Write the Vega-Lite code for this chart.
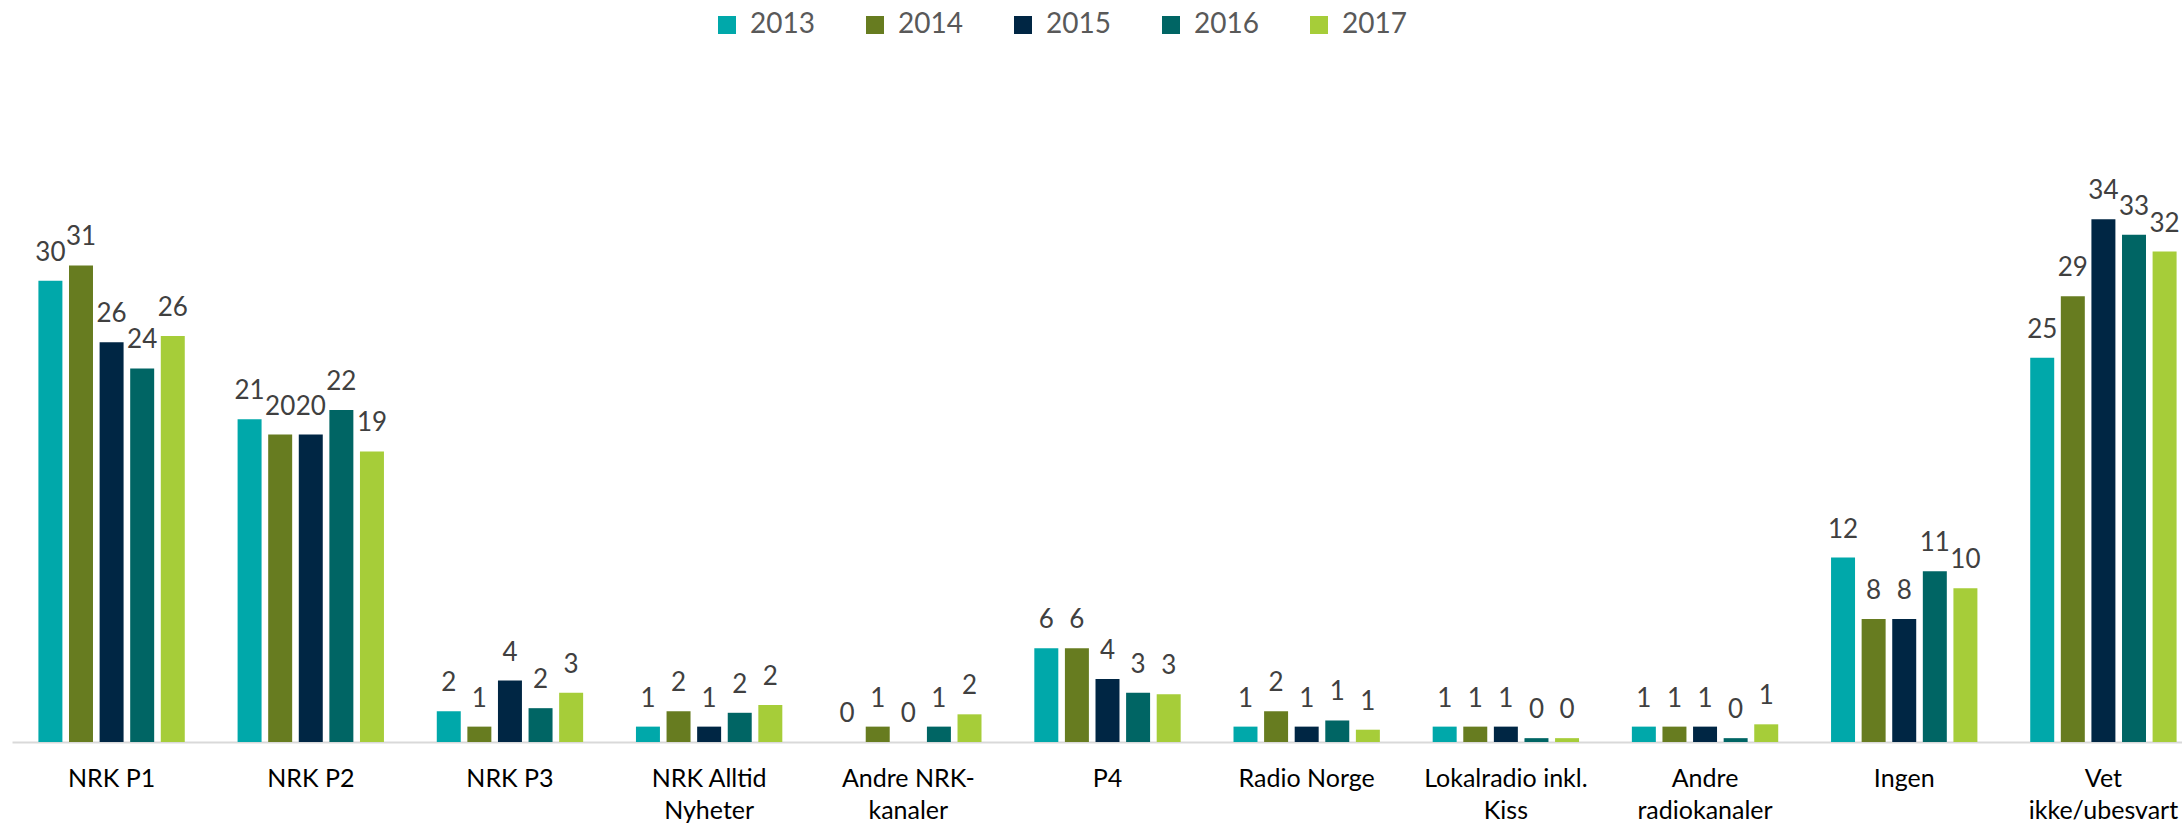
{
  "$schema": "https://vega.github.io/schema/vega-lite/v6.json",
  "width": 2170,
  "height": 615,
  "autosize": {"type": "none"},
  "padding": {"left": 12, "top": 127, "right": 0, "bottom": 87},
  "background": "white",
  "config": {"view": {"stroke": null}, "font": "Lato"},
  "data": {
    "values": [
      {"kanal": "NRK P1", "year": "2013", "value": 30.0},
      {"kanal": "NRK P1", "year": "2014", "value": 31.0},
      {"kanal": "NRK P1", "year": "2015", "value": 26.0},
      {"kanal": "NRK P1", "year": "2016", "value": 24.3},
      {"kanal": "NRK P1", "year": "2017", "value": 26.4},
      {"kanal": "NRK P2", "year": "2013", "value": 21.0},
      {"kanal": "NRK P2", "year": "2014", "value": 20.0},
      {"kanal": "NRK P2", "year": "2015", "value": 20.0},
      {"kanal": "NRK P2", "year": "2016", "value": 21.6},
      {"kanal": "NRK P2", "year": "2017", "value": 18.9},
      {"kanal": "NRK P3", "year": "2013", "value": 2.0},
      {"kanal": "NRK P3", "year": "2014", "value": 1.0},
      {"kanal": "NRK P3", "year": "2015", "value": 4.0},
      {"kanal": "NRK P3", "year": "2016", "value": 2.2},
      {"kanal": "NRK P3", "year": "2017", "value": 3.2},
      {"kanal": "NRK Alltid Nyheter", "year": "2013", "value": 1.0},
      {"kanal": "NRK Alltid Nyheter", "year": "2014", "value": 2.0},
      {"kanal": "NRK Alltid Nyheter", "year": "2015", "value": 1.0},
      {"kanal": "NRK Alltid Nyheter", "year": "2016", "value": 1.9},
      {"kanal": "NRK Alltid Nyheter", "year": "2017", "value": 2.4},
      {"kanal": "Andre NRK-kanaler", "year": "2013", "value": 0},
      {"kanal": "Andre NRK-kanaler", "year": "2014", "value": 1.0},
      {"kanal": "Andre NRK-kanaler", "year": "2015", "value": 0},
      {"kanal": "Andre NRK-kanaler", "year": "2016", "value": 1.0},
      {"kanal": "Andre NRK-kanaler", "year": "2017", "value": 1.8},
      {"kanal": "P4", "year": "2013", "value": 6.1},
      {"kanal": "P4", "year": "2014", "value": 6.1},
      {"kanal": "P4", "year": "2015", "value": 4.1},
      {"kanal": "P4", "year": "2016", "value": 3.2},
      {"kanal": "P4", "year": "2017", "value": 3.1},
      {"kanal": "Radio Norge", "year": "2013", "value": 1.0},
      {"kanal": "Radio Norge", "year": "2014", "value": 2.0},
      {"kanal": "Radio Norge", "year": "2015", "value": 1.0},
      {"kanal": "Radio Norge", "year": "2016", "value": 1.4},
      {"kanal": "Radio Norge", "year": "2017", "value": 0.8},
      {"kanal": "Lokalradio inkl. Kiss", "year": "2013", "value": 1.0},
      {"kanal": "Lokalradio inkl. Kiss", "year": "2014", "value": 1.0},
      {"kanal": "Lokalradio inkl. Kiss", "year": "2015", "value": 1.0},
      {"kanal": "Lokalradio inkl. Kiss", "year": "2016", "value": 0.25},
      {"kanal": "Lokalradio inkl. Kiss", "year": "2017", "value": 0.25},
      {"kanal": "Andre radiokanaler", "year": "2013", "value": 1.0},
      {"kanal": "Andre radiokanaler", "year": "2014", "value": 1.0},
      {"kanal": "Andre radiokanaler", "year": "2015", "value": 1.0},
      {"kanal": "Andre radiokanaler", "year": "2016", "value": 0.25},
      {"kanal": "Andre radiokanaler", "year": "2017", "value": 1.15},
      {"kanal": "Ingen", "year": "2013", "value": 12.0},
      {"kanal": "Ingen", "year": "2014", "value": 8.0},
      {"kanal": "Ingen", "year": "2015", "value": 8.0},
      {"kanal": "Ingen", "year": "2016", "value": 11.1},
      {"kanal": "Ingen", "year": "2017", "value": 10.0},
      {"kanal": "Vet ikke/ubesvart", "year": "2013", "value": 25.0},
      {"kanal": "Vet ikke/ubesvart", "year": "2014", "value": 29.0},
      {"kanal": "Vet ikke/ubesvart", "year": "2015", "value": 34.0},
      {"kanal": "Vet ikke/ubesvart", "year": "2016", "value": 33.0},
      {"kanal": "Vet ikke/ubesvart", "year": "2017", "value": 31.9}
    ]
  },
  "encoding": {
    "x": {
      "field": "kanal",
      "type": "nominal",
      "sort": ["NRK P1", "NRK P2", "NRK P3", "NRK Alltid Nyheter", "Andre NRK-kanaler", "P4", "Radio Norge", "Lokalradio inkl. Kiss", "Andre radiokanaler", "Ingen", "Vet ikke/ubesvart"],
      "scale": {"range": [0, 2191], "paddingInner": 0.232, "paddingOuter": 0.116},
      "axis": {
        "title": null,
        "domainColor": "#D9D9D9",
        "domainWidth": 2,
        "ticks": false,
        "tickSize": 0,
        "labelPadding": 24,
        "labelFont": "Lato",
        "labelFontSize": 25,
        "labelColor": "#000000",
        "labelAngle": 0,
        "labelLineHeight": 32,
        "labelLimit": 400,
        "labelOverlap": false,
        "labelBound": false,
        "labelFlush": false,
        "labelExpr": "datum.value == 'NRK Alltid Nyheter' ? ['NRK Alltid', 'Nyheter'] : datum.value == 'Andre NRK-kanaler' ? ['Andre NRK-', 'kanaler'] : datum.value == 'Lokalradio inkl. Kiss' ? ['Lokalradio inkl.', 'Kiss'] : datum.value == 'Andre radiokanaler' ? ['Andre', 'radiokanaler'] : datum.value == 'Vet ikke/ubesvart' ? ['Vet', 'ikke/ubesvart'] : datum.value"
      }
    },
    "xOffset": {
      "field": "year",
      "type": "nominal",
      "scale": {"paddingInner": 0.216, "paddingOuter": 0.108}
    },
    "y": {
      "field": "value",
      "type": "quantitative",
      "scale": {"domain": [0, 40]},
      "axis": null
    }
  },
  "layer": [
    {
      "mark": {"type": "bar"},
      "encoding": {
        "color": {
          "field": "year",
          "type": "nominal",
          "scale": {
            "domain": ["2013", "2014", "2015", "2016", "2017"],
            "range": ["#00A8AA", "#677C20", "#002644", "#006564", "#A6CD39"]
          },
          "legend": {
            "title": null,
            "orient": "none",
            "legendX": 701,
            "legendY": -116,
            "direction": "horizontal",
            "symbolType": "square",
            "symbolSize": 324,
            "symbolStrokeWidth": 0,
            "symbolOpacity": 1,
            "labelFont": "Lato",
            "labelFontSize": 28,
            "labelColor": "#595959",
            "labelOffset": 9,
            "columnPadding": 46,
            "padding": 0,
            "labelLimit": 200
          }
        }
      }
    },
    {
      "mark": {"type": "text", "dy": -20, "baseline": "alphabetic", "align": "center", "font": "Lato", "fontSize": 26, "color": "#404040"},
      "encoding": {
        "text": {"field": "value", "type": "quantitative", "format": ".0f"}
      }
    }
  ]
}
